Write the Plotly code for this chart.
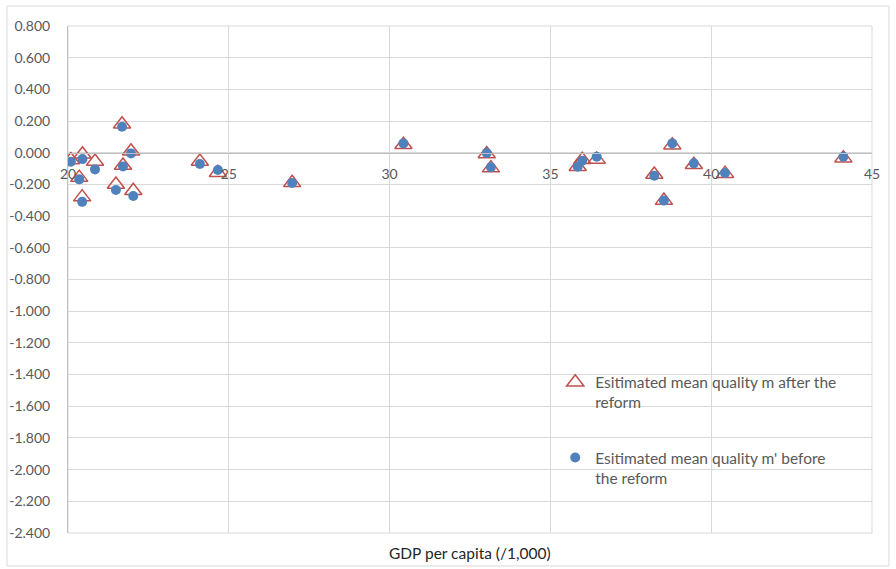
import plotly.graph_objects as go

# ---- data ----
gdp_per_capita = [20.09, 20.45, 20.84, 20.35, 20.44, 21.68, 21.96, 21.71, 21.49, 22.03,
                  24.10, 24.66, 26.97, 30.43, 33.02, 33.15, 35.85, 35.99, 36.44,
                  38.79, 39.46, 38.23, 38.53, 40.43, 44.11]
m_after = [-0.046, -0.010, -0.055, -0.157, -0.280, 0.180, 0.010, -0.080, -0.200, -0.240,
           -0.055, -0.126, -0.190, 0.050, -0.008, -0.097, -0.088, -0.044, -0.042,
           0.048, -0.076, -0.137, -0.302, -0.132, -0.034]
m_before = [-0.057, -0.040, -0.105, -0.168, -0.310, 0.164, -0.004, -0.086, -0.235, -0.273,
            -0.071, -0.109, -0.191, 0.059, -0.002, -0.092, -0.088, -0.050, -0.025,
            0.059, -0.067, -0.145, -0.302, -0.128, -0.025]

name_after = "Esitimated mean quality m after the<br>reform"
name_before = "Esitimated mean quality m' before<br>the reform"
x_title = "GDP per capita (/1,000)"

x_tick_vals = [20, 25, 30, 35, 40, 45]
x_tick_text = ["20", "25", "30", "35", "40", "45"]
y_tick_vals = [0.8, 0.6, 0.4, 0.2, 0.0, -0.2, -0.4, -0.6, -0.8, -1.0, -1.2, -1.4,
               -1.6, -1.8, -2.0, -2.2, -2.4]
y_tick_text = ["0.800", "0.600", "0.400", "0.200", "0.000", "-0.200", "-0.400", "-0.600",
               "-0.800", "-1.000", "-1.200", "-1.400", "-1.600", "-1.800", "-2.000",
               "-2.200", "-2.400"]

FONT = "Lato, 'Open Sans', sans-serif"
FS = 15.5
FS_TICK = 14
GRID = "#D9D9D9"
AXIS = "#BFBFBF"
TXT = "#595959"

fig = go.Figure()
fig.add_trace(go.Scatter(
    x=gdp_per_capita, y=m_after, mode="markers", name=name_after,
    legendgroup="a",
    marker=dict(symbol="triangle-up-open", size=15, color="#C0504D",
                line=dict(color="#C0504D", width=1.5)),
))
fig.add_trace(go.Scatter(
    x=gdp_per_capita, y=m_before, mode="markers", name=name_before,
    legendgroup="b",
    marker=dict(symbol="circle", size=10, color="#4F81BD",
                line=dict(width=0)),
))

fig.update_layout(
    width=896, height=569,
    margin=dict(l=68, r=24, t=26, b=36, autoexpand=False),
    paper_bgcolor="white", plot_bgcolor="white",
    font=dict(family=FONT, size=FS, color=TXT),
    showlegend=True,
    legend=dict(
        x=0.606, y=0.33, xanchor="left", yanchor="top",
        bgcolor="rgba(0,0,0,0)", borderwidth=0,
        font=dict(family=FONT, size=FS, color=TXT),
        valign="top", tracegroupgap=32, traceorder="grouped",
    ),
    xaxis=dict(
        range=[20, 45], tickvals=x_tick_vals, ticktext=x_tick_text,
        showgrid=True, gridcolor=GRID, gridwidth=1,
        zeroline=False, showline=True, linecolor=AXIS, linewidth=1,
        anchor="free", position=0.75, side="bottom",
        ticks="", ticklabelstandoff=8, automargin=False,
        tickfont=dict(family=FONT, size=FS_TICK, color=TXT),
    ),
    yaxis=dict(
        range=[-2.4, 0.8], tickvals=y_tick_vals, ticktext=y_tick_text,
        showgrid=True, gridcolor=GRID, gridwidth=1,
        zeroline=False, showline=True, linecolor=AXIS, linewidth=1,
        ticks="", ticklabelstandoff=14, automargin=False,
        tickfont=dict(family=FONT, size=FS_TICK, color=TXT),
    ),
    annotations=[dict(
        text=x_title, xref="paper", yref="paper", x=0.5, y=-0.039,
        xanchor="center", yanchor="middle", showarrow=False,
        font=dict(family=FONT, size=FS, color="#262626"),
    )],
    shapes=[
        dict(type="rect", xref="paper", yref="paper", x0=0, x1=1, y0=0, y1=1,
             line=dict(color=GRID, width=1), layer="below"),
        dict(type="rect", xref="paper", yref="paper", x0=-0.0759, x1=1.0211,
             y0=-0.065, y1=1.0394, line=dict(color="#D9D9D9", width=1), layer="below"),
    ],
)

fig.write_html(
    "out.html",
    config={"displayModeBar": False},
    post_script="document.body.style.margin='0';document.body.style.padding='0';",
)
